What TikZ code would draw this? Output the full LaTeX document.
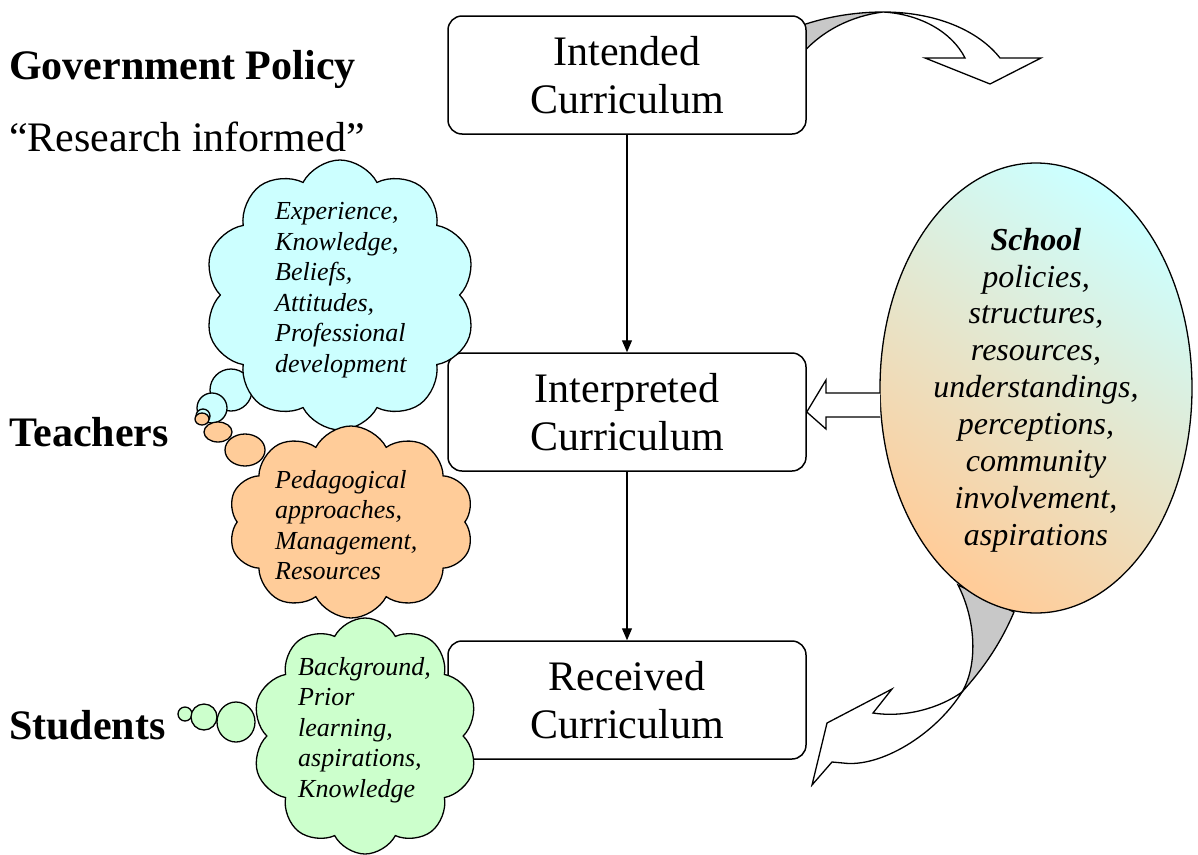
\documentclass[tikz,border=0pt]{standalone}
\usepackage{fontspec}
\setmainfont{Liberation Serif}[ItalicFont={Liberation Serif Italic}, BoldFont={Liberation Serif Bold}, BoldItalicFont={Liberation Serif Bold Italic}]
\usetikzlibrary{shapes.symbols,shapes.geometric,arrows.meta}
\definecolor{cblue}{HTML}{CCFFFF}
\definecolor{corange}{HTML}{FFCC99}
\definecolor{cgreen}{HTML}{CCFFCC}
\definecolor{cgray}{HTML}{C8C8C8}
\begin{document}
\begin{tikzpicture}[x=1pt,y=-1pt,
  curbox/.style={draw, line width=1.5pt, rounded corners=14pt, fill=white, minimum width=358pt, minimum height=118pt, align=center, font=\fontsize{42}{48}\selectfont, inner sep=0pt},
  lab/.style={font=\fontsize{42}{48}\selectfont, anchor=base west, inner sep=0pt},
  cloudshape/.style={cloud, draw, line width=1.3pt, cloud puffs=10, cloud puff arc=125, cloud ignores aspect, inner sep=0pt},
  bubble/.style={draw, line width=1.3pt},
  cloudtext/.style={font=\fontsize{26}{30.5}\selectfont\itshape, align=left, anchor=west, inner sep=0pt},
  blockarrow/.style={draw, line width=1.3pt, fill=white, line join=miter},
  flow/.style={line width=1.2pt, -{Triangle[length=12pt,width=10pt]}}
]
\useasboundingbox (0,0) rectangle (1198,854);

% top curved arrow (behind intended box)
\filldraw[fill=cgray, line width=1.3pt] (800,26) .. controls (828,16) and (858,12) .. (883,12)
   .. controls (852,16) and (822,30) .. (800,56) -- cycle;
\filldraw[fill=white, line width=1.3pt] (883,12) .. controls (935,12) and (978,30) .. (1000,58)
   -- (1041,58) -- (990,84) -- (925,58) -- (965,58)
   .. controls (952,32) and (920,14) .. (883,12) -- cycle;

% bottom curved arrow (behind school ellipse)
\filldraw[fill=cgray, line width=1.3pt] (958,585) .. controls (976,620) and (978,665) .. (962,692)
   .. controls (982,670) and (1000,645) .. (1014,612) -- cycle;
\filldraw[fill=white, line width=1.3pt, line join=miter] (962,692) .. controls (935,735) and (880,768) .. (843,763)
   -- (832,762) -- (812,785) -- (827,723) -- (892,689) -- (873,713)
   .. controls (905,718) and (940,708) .. (962,692) -- cycle;

% boxes
\node[curbox] (intended) at (627,75) {Intended\\Curriculum};
\node[curbox] (interp) at (627,412) {Interpreted\\Curriculum};
\node[curbox] (received) at (627,700) {Received\\Curriculum};
\draw[flow] (intended) -- (interp);
\draw[flow] (interp) -- (received);

% left labels
\node[lab, font=\fontsize{42}{48}\selectfont\bfseries] (gov) at (9,79) {Government Policy};
\node[lab] (res) at (9,151) {“Research informed”};
\node[lab, font=\fontsize{42}{48}\selectfont\bfseries] (teach) at (9,446) {Teachers};
\node[lab, font=\fontsize{42}{48}\selectfont\bfseries] (stud) at (9,739) {Students};

% blue cloud
\draw[bubble, fill=cblue] (231,390) circle (21);
\draw[bubble, fill=cblue] (212,408) circle (15);
\draw[bubble, fill=cblue] (203,416) circle (7);
\node[cloudshape, fill=cblue, minimum width=272pt, minimum height=270pt] (bcloud) at (340,295) {};
\node[cloudtext] (btext) at (275,290) {Experience,\\Knowledge,\\Beliefs,\\Attitudes,\\Professional\\development};

% orange cloud
\draw[bubble, fill=corange] (202,419) ellipse (7 and 6);
\draw[bubble, fill=corange] (218,432) ellipse (14 and 10);
\draw[bubble, fill=corange] (245,450) ellipse (20 and 16);
\node[cloudshape, fill=corange, minimum width=246pt, minimum height=192pt] (ocloud) at (351,522) {};
\node[cloudtext] (otext) at (275,525) {Pedagogical\\approaches,\\Management,\\Resources};

% green cloud
\draw[bubble, fill=cgreen] (185,714) circle (7);
\draw[bubble, fill=cgreen] (204,717) circle (13);
\draw[bubble, fill=cgreen] (236,722) ellipse (19 and 20);
\node[cloudshape, fill=cgreen, minimum width=226pt, minimum height=236pt] (gcloud) at (365,736) {};
\node[cloudtext] (gtext) at (298,730) {Background,\\Prior\\learning,\\aspirations,\\Knowledge};

% school ellipse
\node[ellipse, draw, line width=1.3pt, minimum width=312pt, minimum height=450pt, shading=axis, top color=cblue, bottom color=corange, shading angle=-35] (school) at (1036,388) {};
\node[font=\fontsize{32}{36.9}\selectfont\itshape, align=center, inner sep=0pt] (stext) at (1036,390)
  {\textbf{School}\\policies,\\structures,\\resources,\\understandings,\\perceptions,\\community\\involvement,\\aspirations};

% block arrow from school to interpreted
\draw[blockarrow] (880,393) -- (826,393) -- (826,380) -- (interp.east) -- (826,429) -- (826,417) -- (880,417);
\end{tikzpicture}
\end{document}
